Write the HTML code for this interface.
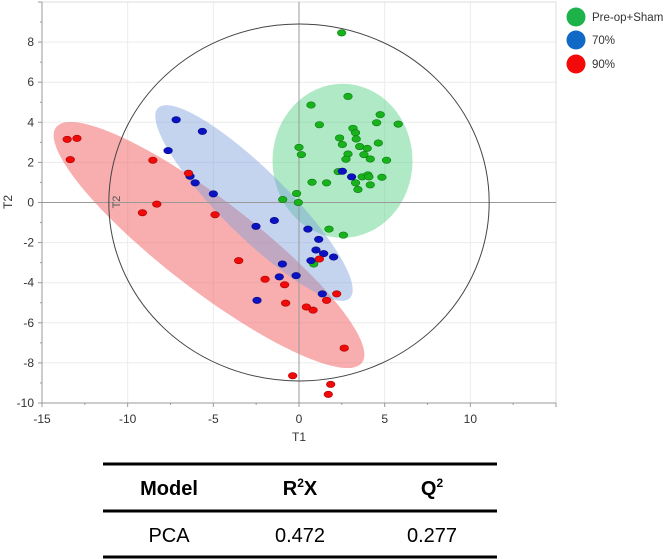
<!DOCTYPE html>
<html><head><meta charset="utf-8"><style>
body{margin:0;background:#fff;width:666px;height:559px;overflow:hidden;font-family:"Liberation Sans",sans-serif}
svg{position:absolute;left:0;top:0}
</style></head><body>
<svg id="chart" width="666" height="559"></svg>
<script>
const xTicks=[-15,-10,-5,0,5,10];
const yTicks=[-10,-8,-6,-4,-2,0,2,4,6,8];
const greenX=[2.49,2.86,0.70,4.74,4.53,5.79,1.19,3.15,3.30,2.37,3.34,4.63,2.53,0,3.54,3.98,0.14,2.86,3.79,4.16,2.74,5.11,2.29,3.69,4.02,4.08,4.84,0.76,1.61,3.30,4.16,3.44,-0.14,-0.95,-0.04,1.75,2.59,0.86];
const greenY=[8.46,5.29,4.86,4.38,3.98,3.91,3.88,3.70,3.48,3.22,3.17,2.97,2.89,2.75,2.79,2.70,2.39,2.42,2.39,2.17,2.16,2.11,1.54,1.28,1.38,1.28,1.26,1.01,0.98,0.98,0.88,0.65,0.45,0.15,0,-1.33,-1.63,-3.07];
const blueX=[-7.17,-5.64,-7.64,-6.36,-6.06,-5.00,-2.51,-1.44,-0.97,-1.15,-0.17,-2.45,2.53,3.07,0.52,1.15,0.99,1.44,2.02,0.70,1.36];
const blueY=[4.13,3.55,2.59,1.31,0.98,0.43,-1.19,-0.90,-3.07,-3.71,-3.65,-4.88,1.56,1.28,-1.33,-1.84,-2.37,-2.55,-2.72,-2.90,-4.56];
const redX=[-13.53,-12.96,-13.35,-8.53,-6.45,-8.30,-9.14,-4.90,-3.52,-1.98,-0.84,-0.78,0.43,0.82,-0.37,1.19,2.20,1.61,2.64,1.85,1.71];
const redY=[3.15,3.20,2.14,2.11,1.46,-0.08,-0.51,-0.61,-2.90,-3.83,-4.10,-5.02,-5.21,-5.37,-8.64,-2.82,-4.56,-4.88,-7.26,-9.07,-9.57];
const X0=42,X1=556,Y0=403,Y1=2;
const sx=v=>X0+(v+15)/30*(X1-X0);
const sy=v=>Y0-(v+10)/20*(Y0-Y1);
const NS="http://www.w3.org/2000/svg";
const svg=document.getElementById('chart');
function mk(tag,attrs,parent){const e=document.createElementNS(NS,tag);for(const k in attrs)e.setAttribute(k,attrs[k]);(parent||svg).appendChild(e);return e;}
xTicks.forEach(t=>{if(t!==-15){const l=mk('line',{x1:sx(t),x2:sx(t),y1:Y1,y2:Y0,stroke:'#ececec'});

}});
yTicks.forEach(t=>{const l=mk('line',{x1:X0,x2:X1,y1:sy(t),y2:sy(t),stroke:'#ececec'});

});
mk('rect',{x:X0,y:Y1,width:X1-X0,height:Y0-Y1,fill:'none',stroke:'#ddd'});
const eg=mk('ellipse',{cx:sx(2.54),cy:sy(2.08),rx:70,ry:77,fill:'#4fcf7f','fill-opacity':0.45});


const er=mk('ellipse',{cx:0,cy:0,rx:193,ry:45,fill:'#f36b6b','fill-opacity':0.55,transform:'translate(209,245) rotate(37.6)'});


const eb=mk('ellipse',{cx:0,cy:0,rx:135,ry:33,fill:'#7d9fdc','fill-opacity':0.45,transform:'translate(254,203) rotate(44.7)'});


mk('line',{x1:sx(0),x2:sx(0),y1:Y1,y2:Y0,stroke:'#999'});
mk('line',{x1:X0,x2:X1,y1:sy(0),y2:sy(0),stroke:'#999'});
const hc=mk('ellipse',{cx:sx(0),cy:sy(0),rx:11.1*(X1-X0)/30,ry:8.9*(Y0-Y1)/20,fill:'none',stroke:'#444','stroke-width':1});


const it=mk('text',{x:0,y:0,'font-size':11,fill:'#555','text-anchor':'middle',transform:'translate(120,202) rotate(-90)'});it.textContent='T2';
mk('line',{x1:X0,x2:X0,y1:Y1,y2:Y0,stroke:'#999'});
mk('line',{x1:X0,x2:X1,y1:Y0,y2:Y0,stroke:'#999'});
for(let v=-15;v<=15;v+=2.5){mk('line',{x1:sx(v),x2:sx(v),y1:Y0,y2:Y0+(v%5===0?4:2),stroke:'#999'});}
for(let v=-10;v<=10;v+=1){mk('line',{x1:X0-(v%2===0?4:2),x2:X0,y1:sy(v),y2:sy(v),stroke:'#999'});}
xTicks.forEach(t=>{const e=mk('text',{x:sx(t),y:Y0+20,'font-size':12,fill:'#333','text-anchor':'middle'});e.textContent=t;

});
yTicks.forEach(t=>{const e=mk('text',{x:X0-8,y:sy(t)+4,'font-size':12,fill:'#333','text-anchor':'end'});e.textContent=t;

});
const xt=mk('text',{x:sx(0),y:441,'font-size':12,fill:'#333','text-anchor':'middle'});xt.textContent='T1';


const yt=mk('text',{x:0,y:0,'font-size':12,fill:'#333','text-anchor':'middle',transform:'translate(12,202) rotate(-90)'});yt.textContent='T2';


function pts(xs,ys,fill,stroke,name){xs.forEach((x,i)=>{const c=mk('ellipse',{cx:sx(x),cy:sy(ys[i]),rx:4.3,ry:3.2,fill:fill,stroke:stroke,'stroke-width':0.6});

});}
pts(greenX,greenY,'#17b21c','#0c7a10','pre-op-sham-point');
pts(blueX,blueY,'#0a12c4','#050a80','70-percent-point');
pts(redX,redY,'#f00a0a','#a00','90-percent-point');
[['Pre-op+Sham','#1db34a',17],['70%','#1069c7',40],['90%','#f50a0a',64]].forEach(d=>{
const c=mk('circle',{cx:576,cy:d[2],r:9.5,fill:d[1]});


const t=mk('text',{x:592,y:d[2]+4,'font-size':11.5,fill:'#333'});t.textContent=d[0];

});
[464,511,557].forEach(y=>{mk('rect',{x:103,y:y-1.5,width:394,height:3,fill:'#000'});});
[['Model','',169],['R','X',300],['Q','',432]].forEach((d,i)=>{const t=mk('text',{x:d[2],y:495,'font-size':20,'font-weight':'bold','text-anchor':'middle',fill:'#000'});


if(i===0){t.textContent=d[0];}else{
const a=mk('tspan',{},t);a.textContent=d[0];
const s=mk('tspan',{'font-size':12,dy:-8},t);s.textContent='2';
const b=mk('tspan',{dy:8},t);b.textContent=d[1];}});
[['PCA',169],['0.472',300],['0.277',432]].forEach(d=>{const t=mk('text',{x:d[1],y:542,'font-size':20,'text-anchor':'middle',fill:'#000'});t.textContent=d[0];

});
</script>
</body></html>
